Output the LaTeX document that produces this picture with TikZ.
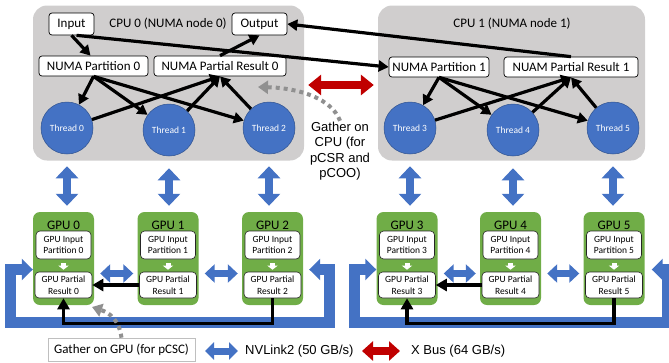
\documentclass[tikz,border=0pt]{standalone}
\usepackage{fontspec}
\setmainfont{Carlito}
\newfontfamily\arialfont{Liberation Sans}
\usetikzlibrary{arrows.meta,positioning,calc}
\definecolor{cpubg}{HTML}{D0CECE}
\definecolor{linkblue}{HTML}{4472C4}
\definecolor{threadedge}{HTML}{2F528F}
\definecolor{gpugreen}{HTML}{70AD47}
\definecolor{xbusred}{HTML}{C00000}
\definecolor{gathergray}{HTML}{909090}

\begin{document}
\begin{tikzpicture}[x=1pt, y=-1pt,
    cpu/.style={fill=cpubg, rounded corners=14pt, minimum height=155pt, inner sep=0pt},
    title/.style={font=\fontsize{13}{15}\selectfont, inner sep=0pt},
    box/.style={draw=black, fill=white, rounded corners=3pt, minimum height=20pt, inner sep=1pt, line width=0.7pt, font=\fontsize{13}{15}\selectfont},
    thread/.style={circle, fill=linkblue, draw=threadedge, line width=0.5pt, minimum size=52pt, inner sep=0pt, text=white, font=\fontsize{9.5}{11}\selectfont},
    gpu/.style={fill=gpugreen, rounded corners=7pt, minimum width=61pt, minimum height=93pt, inner sep=0pt},
    gputitle/.style={font=\fontsize{13}{15}\selectfont, inner sep=0pt},
    gin/.style={draw=black!85, fill=white, rounded corners=4pt, line width=0.6pt, align=center, inner sep=0pt, minimum width=55pt, minimum height=28pt, font=\fontsize{9.5}{11.5}\selectfont},
    gres/.style={gin, minimum width=57pt, minimum height=26pt},
    arrow/.style={-{Triangle[length=10pt,width=11pt]}, line width=3.2pt},
    garrow/.style={-{Triangle[length=11pt,width=12pt]}, line width=3.5pt},
    wdown/.style={white, line width=5pt, -{Triangle[length=4pt,width=10pt]}, shorten <=4pt, shorten >=2pt},
    nvv/.style={linkblue, line width=8pt, {Triangle[length=12pt,width=22pt]}-{Triangle[length=12pt,width=22pt]}, shorten <=12pt, shorten >=6pt},
    nvh/.style={linkblue, line width=7pt, {Triangle[length=10pt,width=18pt]}-{Triangle[length=10pt,width=18pt]}, shorten <=6pt, shorten >=4pt},
    nvloop/.style={linkblue, line width=11pt, line join=miter, {Triangle[length=11pt,width=21pt]}-{Triangle[length=11pt,width=21pt]}},
    xbus/.style={xbusred, line width=8pt, {Triangle[length=13pt,width=20pt]}-{Triangle[length=13pt,width=20pt]}, shorten <=4pt, shorten >=4pt},
    gather/.style={gathergray, line width=4pt, dash pattern=on 4pt off 4pt, -{Triangle[length=10pt,width=13pt]}},
    legtext/.style={anchor=west, inner sep=0pt, font=\arialfont\fontsize{13}{15}\selectfont},
]
\useasboundingbox (0,0) rectangle (669,362);

% CPU sockets
\node[cpu, minimum width=271pt] (cpu0) at (168.5,83) {};
\node[cpu, minimum width=267pt] (cpu1) at (511.5,83) {};
\node[title] (cpu0lbl) at (168,24) {CPU 0 (NUMA node 0)};
\node[title] (cpu1lbl) at (512,24) {CPU 1 (NUMA node 1)};

\node[box, minimum width=45pt, minimum height=22pt] (in0) at (71.5,24) {Input};
\node[box, minimum width=55pt, minimum height=22pt] (out0) at (259.5,24) {Output};
\node[box, minimum width=109pt] (part0) at (93.5,66) {NUMA Partition 0};
\node[box, minimum width=132pt] (res0) at (220,66) {NUMA Partial Result 0};
\node[box, minimum width=100pt] (part1) at (439,67) {NUMA Partition 1};
\node[box, minimum width=134pt] (res1) at (571,67) {NUAM Partial Result 1};

\node[thread] (th0) at (67,128) {Thread 0};
\node[thread] (th1) at (169,130) {Thread 1};
\node[thread] (th2) at (269,128) {Thread 2};
\node[thread] (th3) at (410,128) {Thread 3};
\node[thread] (th4) at (513,130) {Thread 4};
\node[thread] (th5) at (613,128) {Thread 5};

% data flow inside the CPUs
\draw[arrow] (in0.south) -- ([xshift=-3pt]part0.north);
\draw[arrow] ([xshift=5pt]in0.south) -- (part1.west);
\draw[arrow] (res0.north) -- (out0.south);
\draw[arrow] (res1.north) -- (out0.east);
\draw[arrow] (part0.south) -- (th0);
\draw[arrow] (part0.south) -- (th1);
\draw[arrow] (part0.south) -- (th2);
\draw[arrow] (th0) -- (res0.south);
\draw[arrow] (th1) -- (res0.south);
\draw[arrow] (th2) -- (res0.south);
\draw[arrow] (part1.south) -- (th3);
\draw[arrow] (part1.south) -- (th4);
\draw[arrow] (part1.south) -- (th5);
\draw[arrow] (th3) -- (res1.south);
\draw[arrow] (th4) -- (res1.south);
\draw[arrow] (th5) -- (res1.south);

\draw[xbus] ([yshift=-2pt]cpu0.east) -- ([yshift=-2pt]cpu1.west);

% GPUs
\node[gpu] (gpu0) at (63.5,258.5) {};
\node[gpu] (gpu1) at (168,258.5) {};
\node[gpu] (gpu2) at (272.5,258.5) {};
\node[gpu] (gpu3) at (407,258.5) {};
\node[gpu] (gpu4) at (510.5,258.5) {};
\node[gpu] (gpu5) at (614,258.5) {};

\node[gputitle] (gt0) at (63.5,225) {GPU 0};
\node[gputitle] (gt1) at (168,225) {GPU 1};
\node[gputitle] (gt2) at (272.5,225) {GPU 2};
\node[gputitle] (gt3) at (407,225) {GPU 3};
\node[gputitle] (gt4) at (510.5,225) {GPU 4};
\node[gputitle] (gt5) at (614,225) {GPU 5};

\node[gin] (gin0) at (63.5,245) {GPU Input\\Partition 0};
\node[gin] (gin1) at (168,245) {GPU Input\\Partition 1};
\node[gin] (gin2) at (272.5,245) {GPU Input\\Partition 2};
\node[gin] (gin3) at (407,245) {GPU Input\\Partition 3};
\node[gin] (gin4) at (510.5,245) {GPU Input\\Partition 4};
\node[gin] (gin5) at (614,245) {GPU Input\\Partition 5};

\node[gres] (gres0) at (63.5,285) {GPU Partial\\Result 0};
\node[gres] (gres1) at (168,285) {GPU Partial\\Result 1};
\node[gres] (gres2) at (272.5,285) {GPU Partial\\Result 2};
\node[gres] (gres3) at (407,285) {GPU Partial\\Result 3};
\node[gres] (gres4) at (510.5,285) {GPU Partial\\Result 4};
\node[gres] (gres5) at (614,285) {GPU Partial\\Result 5};

\draw[wdown] (gin0.south) -- (gres0.north);
\draw[wdown] (gin1.south) -- (gres1.north);
\draw[wdown] (gin2.south) -- (gres2.north);
\draw[wdown] (gin3.south) -- (gres3.north);
\draw[wdown] (gin4.south) -- (gres4.north);
\draw[wdown] (gin5.south) -- (gres5.north);

% NVLink2: CPU to GPU
\draw[nvv] (th0.south) -- (th0.south |- gpu0.north);
\draw[nvv] (th1.south) -- (th1.south |- gpu1.north);
\draw[nvv] (th2.south) -- (th2.south |- gpu2.north);
\draw[nvv] (th3.south) -- (th3.south |- gpu3.north);
\draw[nvv] (th4.south) -- (th4.south |- gpu4.north);
\draw[nvv] (th5.south) -- (th5.south |- gpu5.north);

% NVLink2: GPU to GPU
\draw[nvh] ([yshift=-15pt]gpu0.east) -- ([yshift=-15pt]gpu1.west);
\draw[nvh] ([yshift=-15pt]gpu1.east) -- ([yshift=-15pt]gpu2.west);
\draw[nvh] ([yshift=-15pt]gpu3.east) -- ([yshift=-15pt]gpu4.west);
\draw[nvh] ([yshift=-15pt]gpu4.east) -- ([yshift=-15pt]gpu5.west);
\draw[nvloop] ([yshift=-11pt]gpu0.west) -| (10,322) -| (329,269.5) -- ([shift={(6pt,-11pt)}]gpu2.east);
\draw[nvloop] ([yshift=-11pt]gpu3.west) -| (354,322) -| (667,269.5) -- ([shift={(7pt,-11pt)}]gpu5.east);

% reduction on the GPUs
\draw[garrow] (gres1.west) -- (gres0.east);
\draw[garrow] (gres2.south) -- ++(0,25) -| (gres0.south);
\draw[garrow] (gres4.west) -- (gres3.east);
\draw[garrow] (gres5.south) -- ++(0,25) -| (gres3.south);

% gather notes
\node[align=center, inner sep=1pt, font=\arialfont\fontsize{13}{15.3}\selectfont] (gcpu) at (340,151) {Gather on\\CPU (for\\pCSR and\\pCOO)};
\coordinate (gcpuend) at (258,87);
\draw[gather] (gcpu.north) .. controls (332,99) and (300,88) .. (gcpuend);

\node[draw=black!25, line width=0.6pt, minimum width=147pt, minimum height=23pt, inner sep=0pt, font=\fontsize{13}{15}\selectfont] (ggpu) at (121.5,349.5) {Gather on GPU (for pCSC)};
\coordinate (ggpuend) at (92,307);
\draw[gather] (ggpu.north) .. controls (119,320) and (110,313) .. (ggpuend);

% legend
\node[legtext] (nvtext) at (245,351) {NVLink2 (50 GB/s)};
\node[legtext] (xbtext) at (411,351) {X Bus (64 GB/s)};
\draw[linkblue, line width=7pt, {Triangle[length=9pt,width=17pt]}-{Triangle[length=9pt,width=17pt]}] ([xshift=-40pt]nvtext.west) -- ([xshift=-7pt]nvtext.west);
\draw[xbusred, line width=8pt, {Triangle[length=11pt,width=19pt]}-{Triangle[length=11pt,width=19pt]}] ([xshift=-49pt]xbtext.west) -- ([xshift=-11pt]xbtext.west);
\end{tikzpicture}
\end{document}
